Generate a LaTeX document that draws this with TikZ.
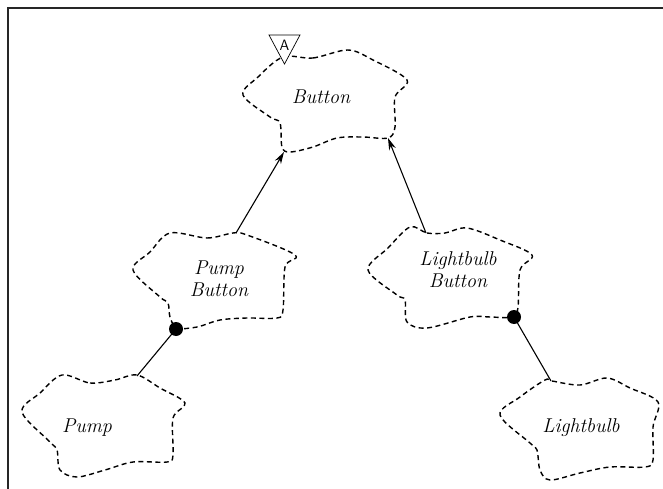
\documentclass[tikz,border=0pt]{standalone}
\usetikzlibrary{arrows.meta}
\begin{document}
\begin{tikzpicture}[x=1pt,y=-1pt,
  cloudline/.style={draw=black, dash pattern=on 5pt off 3.5pt, line width=1.4pt},
  lbl/.style={font=\fontsize{20}{22}\selectfont\itshape, align=center, inner sep=0pt},
  inherit/.style={line width=1.1pt, -{Stealth[length=12pt,width=7pt]}},
  hasline/.style={line width=1.1pt},
  dotstyle/.style={circle, fill=black, minimum size=14pt, inner sep=0pt}]
\useasboundingbox (0,0) rectangle (663,489);
\draw[line width=1.5pt, draw=black!85] (8,489) -- (8,8) -- (663,8);

% Button
\draw[cloudline] plot[smooth cycle, tension=0.55] coordinates {
 (283,57) (313,58) (348,50) (373,60) (407,80) (395,97) (395,127) (388,138)
 (363,137) (337,138) (313,147) (290,152) (282,147) (280,123) (270,117)
 (243,95) (258,77)};
% Pump Button
\draw[cloudline] plot[smooth cycle, tension=0.55] coordinates {
 (170,233) (207,238) (233,233) (247,235) (295,255) (285,267) (283,310)
 (277,318) (247,318) (220,320) (197,327) (177,328) (170,317) (168,303)
 (160,297) (133,270) (150,252)};
% Lightbulb Button
\draw[cloudline] plot[smooth cycle, tension=0.55] coordinates {
 (410,227) (427,233) (445,233) (467,228) (500,240) (532,255) (520,270)
 (518,307) (513,317) (490,317) (470,317) (427,328) (407,322) (405,300)
 (397,295) (368,270) (388,248)};
% Pump
\draw[cloudline] plot[smooth cycle, tension=0.55] coordinates {
 (62,375) (90,383) (115,380) (137,375) (160,388) (185,403) (173,418)
 (173,455) (167,462) (133,462) (105,470) (77,477) (60,470) (57,450)
 (50,442) (22,412) (40,393)};
% Lightbulb
\draw[cloudline] plot[smooth cycle, tension=0.55] coordinates {
 (545,380) (552,381) (580,385) (607,378) (630,388) (658,402) (653,427)
 (653,460) (645,467) (610,467) (580,473) (550,480) (540,470) (537,450)
 (530,443) (500,415) (520,397)};

% labels
\node[lbl] (button) at (321,97) {Button};
\node[lbl] (pumpbutton) at (219,279) {Pump\\Button};
\node[lbl] (lbbutton) at (458,270) {Lightbulb\\Button};
\node[lbl] (pump) at (87,428) {Pump};
\node[lbl] (lightbulb) at (581,428) {Lightbulb};

% abstract adornment
\draw[fill=white, line width=0.7pt] (269,35) -- (300,35) -- (284.5,64) -- cycle;
\node[font=\sffamily\fontsize{15}{15}\selectfont, inner sep=0pt] (absA) at (284.5,45) {A};

% connector ends
\coordinate (bBotL) at (284,152);
\coordinate (bBotR) at (388,138);
\coordinate (pbTop) at (236,233);
\coordinate (lbbTop) at (426,233);
\coordinate (pTop) at (137,376);
\coordinate (lTop) at (551,381);
\node[dotstyle] (pbDot) at (176,329) {};
\node[dotstyle] (lbbDot) at (514,317) {};

\draw[inherit] (pbTop) -- (bBotL);
\draw[inherit] (lbbTop) -- (bBotR);
\draw[hasline] (pbDot.center) -- (pTop);
\draw[hasline] (lbbDot.center) -- (lTop);
\end{tikzpicture}
\end{document}
